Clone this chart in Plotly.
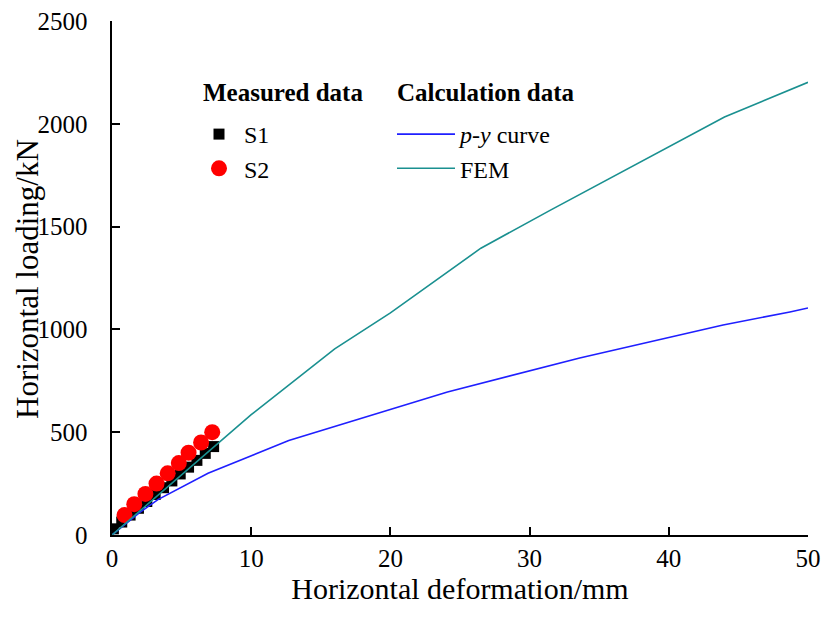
import plotly.graph_objects as go

# Measured data
s1_x = [0.1, 0.7, 1.3, 1.9, 2.5, 3.1, 3.7, 4.3, 4.9, 5.5, 6.1, 6.7, 7.3]
s1_y = [30, 63, 97, 130, 163, 197, 230, 263, 297, 330, 363, 397, 430]
s2_x = [0.9, 1.6, 2.4, 3.2, 4.0, 4.8, 5.5, 6.4, 7.2]
s2_y = [97, 150, 200, 250, 300, 350, 400, 450, 500]

# Calculation data
py_x = [0, 1.0, 2.0, 3.3, 6.9, 12.7, 18.9, 24.1, 33.6, 43.9, 48.7, 50]
py_y = [0, 55, 110, 172, 300, 460, 588, 696, 861, 1021, 1085, 1104]
fem_x = [0, 10, 16, 20, 26.5, 31.5, 44, 46, 50]
fem_y = [0, 585, 905, 1080, 1395, 1580, 2033, 2090, 2202]

x_ticks = [0, 10, 20, 30, 40, 50]
y_ticks = [0, 500, 1000, 1500, 2000, 2500]

FONT = "Liberation Serif"
W, H = 824, 619
L, R, T, B = 112, 16, 21, 84
PW, PH = W - L - R, H - T - B


def px_x(p):
    return (p - L) / PW


def px_y(p):
    return 1 - (p - T) / PH


fig = go.Figure()
fig.add_trace(go.Scatter(x=s1_x, y=s1_y, mode="markers", name="S1",
                         marker=dict(symbol="square", size=11, color="black"),
                         legend="legend"))
fig.add_trace(go.Scatter(x=s2_x, y=s2_y, mode="markers", name="S2",
                         marker=dict(symbol="circle", size=16, color="#ff0000"),
                         legend="legend"))
fig.add_trace(go.Scatter(x=py_x, y=py_y, mode="lines", name="<i>p</i>-<i>y</i> curve",
                         line=dict(color="#1f1fff", width=1.6), legend="legend2"))
fig.add_trace(go.Scatter(x=fem_x, y=fem_y, mode="lines", name="FEM",
                         line=dict(color="#1a9090", width=1.6), legend="legend2"))

tf = dict(family=FONT, size=25, color="black")

fig.update_layout(
    width=W, height=H,
    margin=dict(l=L, r=R, t=T, b=B),
    paper_bgcolor="white", plot_bgcolor="white",
    font=dict(family=FONT, size=25, color="black"),
    xaxis=dict(range=[0, 50], tickvals=x_ticks, automargin=False,
               showline=True, linecolor="black", linewidth=2,
               ticks="inside", ticklen=8, tickwidth=2, tickcolor="black",
               showgrid=False, zeroline=False,
               title=dict(text="Horizontal deformation/mm",
                          font=dict(family=FONT, size=30, color="black"), standoff=0),
               tickfont=tf),
    yaxis=dict(range=[0, 2500], tickvals=y_ticks, automargin=False,
               ticktext=[f"{v}\u2002\u2009" for v in y_ticks],
               showline=True, linecolor="black", linewidth=2,
               ticks="inside", ticklen=8, tickwidth=2, tickcolor="black",
               showgrid=False, zeroline=False,
               tickfont=tf),
    legend=dict(x=px_x(194), y=px_y(112), xanchor="left", yanchor="top",
                font=dict(family=FONT, size=24, color="black"), bgcolor="rgba(0,0,0,0)",
                itemwidth=40, tracegroupgap=0),
    legend2=dict(x=px_x(392), y=px_y(112), xanchor="left", yanchor="top",
                 font=dict(family=FONT, size=24, color="black"), bgcolor="rgba(0,0,0,0)",
                 itemwidth=58, tracegroupgap=0),
    annotations=[
        dict(text="<b>Measured data</b>", x=px_x(201), y=px_y(93), xref="paper", yref="paper",
             xanchor="left", yanchor="middle", showarrow=False,
             font=dict(family=FONT, size=25, color="black")),
        dict(text="<b>Calculation data</b>", x=px_x(395), y=px_y(93), xref="paper", yref="paper",
             xanchor="left", yanchor="middle", showarrow=False,
             font=dict(family=FONT, size=25, color="black")),
        dict(text="Horizontal loading/kN", textangle=-90, x=px_x(27), y=px_y(279),
             xref="paper", yref="paper", xanchor="center", yanchor="middle",
             showarrow=False, font=dict(family=FONT, size=31, color="black")),
    ],
)

fig.write_html("out.html")
